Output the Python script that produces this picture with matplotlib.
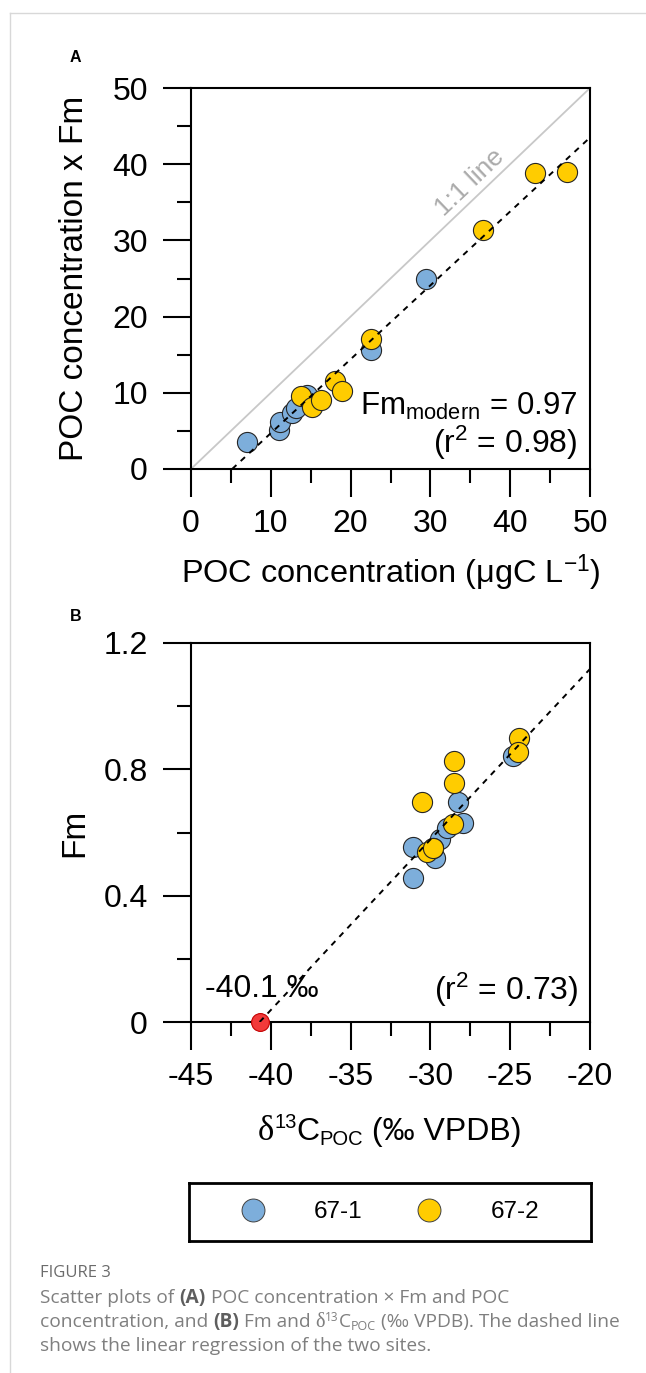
import matplotlib
matplotlib.use("Agg")
import matplotlib.pyplot as plt
from matplotlib.lines import Line2D
from matplotlib.ticker import MultipleLocator
import numpy as np

plt.rcParams['font.family'] = ['Liberation Sans', 'DejaVu Sans']
plt.rcParams['mathtext.fontset'] = 'custom'
plt.rcParams['mathtext.rm'] = 'Liberation Sans'
plt.rcParams['mathtext.it'] = 'Liberation Sans:italic'
plt.rcParams['mathtext.bf'] = 'Liberation Sans:bold'

# ---- data ----
site_names = ['67-1', '67-2']
site_colors = ['#7daedb', '#ffcc00']

# panel A: POC concentration vs POC concentration x Fm
a_poc_1 = [7.0, 11.0, 11.1, 12.6, 13.2, 14.5, 22.6, 29.5]
a_pocfm_1 = [3.6, 5.1, 6.2, 7.3, 8.0, 9.7, 15.6, 24.9]
a_poc_2 = [13.8, 15.2, 16.3, 18.1, 18.9, 22.5, 36.6, 43.1, 47.1]
a_pocfm_2 = [9.6, 8.1, 9.0, 11.5, 10.2, 17.1, 31.3, 38.9, 39.0]
a_slope, a_intercept = 0.97, -5.0
a_ticks = [0, 10, 20, 30, 40, 50]
a_ticklabels = ['0', '10', '20', '30', '40', '50']

# panel B: d13C vs Fm
b_d13c_1 = [-31.07, -31.07, -29.71, -29.40, -28.98, -27.98, -28.25, -24.81, -29.82]
b_fm_1 = [0.455, 0.555, 0.518, 0.579, 0.613, 0.631, 0.698, 0.842, 0.550]
b_d13c_2 = [-30.55, -28.52, -28.52, -28.56, -30.23, -29.82, -24.43, -24.49]
b_fm_2 = [0.696, 0.827, 0.756, 0.626, 0.539, 0.550, 0.900, 0.856]
b_xint, b_slope = -40.7, 0.054
b_xticks = [-45, -40, -35, -30, -25, -20]
b_xticklabels = ['-45', '-40', '-35', '-30', '-25', '-20']
b_yticks = [0, 0.4, 0.8, 1.2]
b_yticklabels = ['0', '0.4', '0.8', '1.2']

W, H = 646, 1373
fig = plt.figure(figsize=(W / 100, H / 100), dpi=100)
fig.patch.set_facecolor('white')


def px_axes(l, t, r, b):
    return fig.add_axes([l / W, 1 - b / H, (r - l) / W, (b - t) / H])


def style_axes(ax):
    for sp in ax.spines.values():
        sp.set_linewidth(1.5)
    ax.tick_params(which='major', direction='out', length=20, width=1.5,
                   labelsize=23, color='black')
    ax.tick_params(which='minor', direction='out', length=10, width=1.5)
    ax.tick_params(axis='x', which='major', pad=9)
    ax.tick_params(axis='y', which='major', pad=11)


def scatter_sites(ax, xs, ys):
    for x, y, c in zip(xs, ys, site_colors):
        ax.scatter(x, y, s=210, facecolor=c, edgecolor='#262626',
                   linewidth=0.8, zorder=3)


dash = dict(color='black', lw=1.4, linestyle=(0, (3, 3)), zorder=5)

# ---- panel A ----
axA = px_axes(191, 88, 590, 469)
axA.set_xlim(0, 50)
axA.set_ylim(0, 50)
axA.plot([0, 50], [0, 50], color='#c8c8c8', lw=1.3, zorder=1)
scatter_sites(axA, [a_poc_1, a_poc_2], [a_pocfm_1, a_pocfm_2])
xa = np.array([-a_intercept / a_slope, 50])
axA.plot(xa, a_slope * xa + a_intercept, **dash)
axA.set_xticks(a_ticks)
axA.set_xticklabels(a_ticklabels)
axA.set_yticks(a_ticks)
axA.set_yticklabels(a_ticklabels)
axA.xaxis.set_minor_locator(MultipleLocator(5))
axA.yaxis.set_minor_locator(MultipleLocator(5))
style_axes(axA)
axA.set_xlabel(r'POC concentration ($\mathrm{\mu}$gC L$^{-1}$)', fontsize=23.4)
axA.xaxis.label.set_verticalalignment('center')
axA.xaxis.set_label_coords(0.5, -0.273)
axA.set_ylabel('POC concentration x Fm', fontsize=24)
axA.yaxis.label.set_verticalalignment('center')
axA.yaxis.set_label_coords(-0.291, 0.5)
axA.text(34.9, 37.6, '1:1 line', color='#ababab', fontsize=19, ha='center',
         va='center', rotation=45, rotation_mode='anchor',
         transform_rotates_text=True)
axA.text(48.4, 7.1, r'Fm$_{\mathrm{modern}}$ = 0.97', fontsize=22.5,
         ha='right', va='baseline')
axA.text(48.4, 2.1, r'(r$^{2}$ = 0.98)', fontsize=23, ha='right', va='baseline')

# ---- panel B ----
axB = px_axes(191, 643, 590, 1022)
axB.set_xlim(-45, -20)
axB.set_ylim(0, 1.2)
scatter_sites(axB, [b_d13c_1, b_d13c_2], [b_fm_1, b_fm_2])
xb = np.array([b_xint, -20])
axB.plot(xb, b_slope * (xb - b_xint), **dash)
axB.scatter([b_xint], [0], s=165, facecolor='#f23a3a', edgecolor='#c40000',
            linewidth=0.8, zorder=4, clip_on=False)
axB.set_xticks(b_xticks)
axB.set_xticklabels(b_xticklabels)
axB.set_yticks(b_yticks)
axB.set_yticklabels(b_yticklabels)
axB.xaxis.set_minor_locator(MultipleLocator(2.5))
axB.yaxis.set_minor_locator(MultipleLocator(0.2))
style_axes(axB)
axB.set_ylabel('Fm', fontsize=24)
axB.yaxis.label.set_verticalalignment('center')
axB.yaxis.set_label_coords(-0.291, 0.5)
axB.text(-44.1, 0.08, '-40.1 \u2030', fontsize=23, ha='left', va='baseline')
axB.text(-20.75, 0.07, r'(r$^{2}$ = 0.73)', fontsize=23, ha='right',
         va='baseline')

# panel letters
fig.text(75 / W, 1 - 57 / H, 'A', fontsize=11.5, fontweight='bold',
         ha='center', va='center')
fig.text(76 / W, 1 - 617 / H, 'B', fontsize=11.5, fontweight='bold',
         ha='center', va='center')

# ---- legend ----
axL = px_axes(189, 1183, 591, 1241)
axL.set_xticks([])
axL.set_yticks([])
for sp in axL.spines.values():
    sp.set_linewidth(2)
handles = [Line2D([], [], linestyle='none', marker='o', markersize=16.5,
                  markerfacecolor=c, markeredgecolor='#404040',
                  markeredgewidth=0.7, label=n)
           for n, c in zip(site_names, site_colors)]
axL.legend(handles=handles, loc='center', ncol=2, frameon=False, fontsize=17.5,
           handlelength=1.0, handletextpad=2.0, columnspacing=2.25)


# ---- text runs (mixed fonts) ----
renderer = fig.canvas.get_renderer()


def text_runs(x, y, runs, ha='left', **base):
    """Lay out runs of differently styled text on one baseline (pixel coords)."""
    items, cx = [], 0.0
    for s, style in runs:
        kw = dict(base)
        kw.update(style)
        dy = kw.pop('dy', 0)
        t = fig.text(0, 0, s, ha='left', va='baseline', **kw)
        items.append((t, cx, dy))
        cx += t.get_window_extent(renderer).width
    x0 = x - cx / 2 if ha == 'center' else x
    for t, ox, dy in items:
        t.set_position(((x0 + ox) / W, 1 - (y - dy) / H))


serif = ['Liberation Serif', 'DejaVu Serif']
text_runs(390, 1140, [
    ('\u03b4', dict(family=serif, fontsize=25)),
    ('13', dict(fontsize=14.5, dy=12)),
    ('C', {}),
    ('POC', dict(fontsize=14.5, dy=-5)),
    (' (\u2030 VPDB)', {}),
], ha='center', fontsize=23)

# ---- caption ----
sans_cap = ['Open Sans', 'DejaVu Sans']
cap = dict(family=sans_cap, fontsize=13.8, color='#7f7f7f')
bold = dict(fontweight='bold', color='#5e5e5e')
fig.text(40 / W, 1 - 1277 / H, 'FIGURE 3', family=sans_cap,
         fontsize=12, color='#6b6b6b', fontweight='medium', va='baseline')
text_runs(40, 1303, [
    ('Scatter plots of ', {}),
    ('(A)', bold),
    (' POC concentration \u00d7 Fm and POC', {}),
], **cap)
text_runs(40, 1327, [
    ('concentration, and ', {}),
    ('(B)', bold),
    (' Fm and ', {}),
    ('\u03b4', dict(family=serif, fontsize=14.5)),
    ('13', dict(fontsize=8.5, dy=6)),
    ('C', {}),
    ('POC', dict(fontsize=9, dy=-2.5)),
    (' (\u2030 VPDB). The dashed line', {}),
], **cap)
text_runs(40, 1351, [('shows the linear regression of the two sites.', {})], **cap)

# page frame lines
fig.add_artist(Line2D([9.5 / W, 1], [1 - 12.5 / H] * 2, transform=fig.transFigure,
                      color='#d8d8d8', lw=1))
fig.add_artist(Line2D([9.5 / W] * 2, [0, 1 - 12.5 / H], transform=fig.transFigure,
                      color='#d8d8d8', lw=1))

fig.savefig('out.png', dpi=100, facecolor='white')
